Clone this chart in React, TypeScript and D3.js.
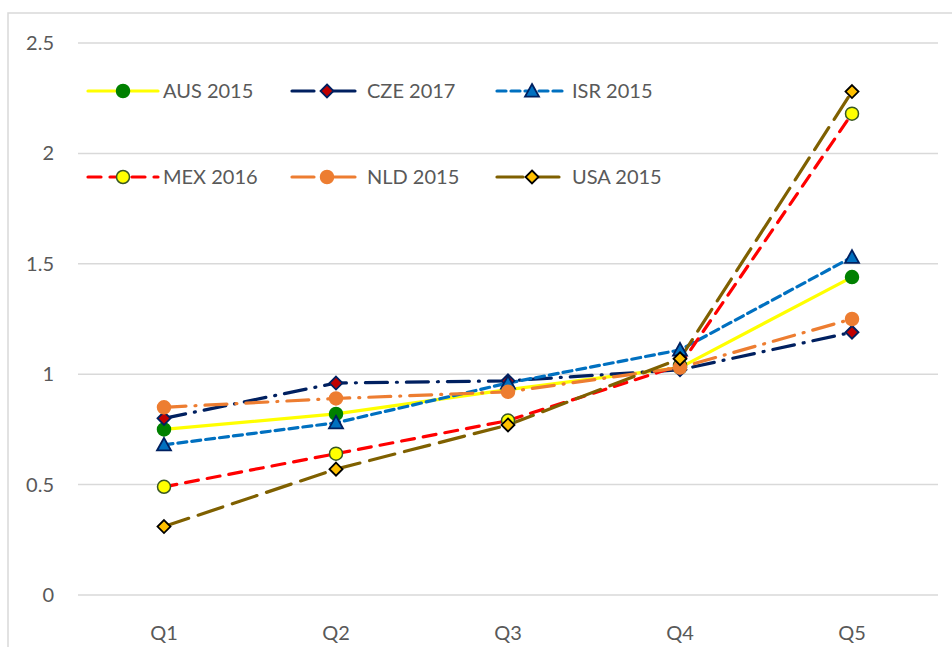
import React from "react";
import * as d3 from "d3";

const categories = ["Q1", "Q2", "Q3", "Q4", "Q5"];
const yTicks = [0, 0.5, 1, 1.5, 2, 2.5];
const seriesNames = ["AUS 2015", "CZE 2017", "ISR 2015", "MEX 2016", "NLD 2015", "USA 2015"];
const aus = [0.75, 0.82, 0.93, 1.03, 1.44];
const cze = [0.8, 0.96, 0.97, 1.02, 1.19];
const isr = [0.68, 0.78, 0.96, 1.11, 1.53];
const mex = [0.49, 0.64, 0.79, 1.04, 2.18];
const nld = [0.85, 0.89, 0.92, 1.03, 1.25];
const usa = [0.31, 0.57, 0.77, 1.07, 2.28];

type Style = {
  color: string;
  dash: string | null;
  marker: "circle" | "diamond" | "triangle";
  fill: string;
  stroke: string;
};

const styles: Style[] = [
  { color: "#FFFF00", dash: null, marker: "circle", fill: "#008000", stroke: "#008000" },
  { color: "#002060", dash: "22 9 1 9", marker: "diamond", fill: "#C00000", stroke: "#002060" },
  { color: "#0070C0", dash: "9 5", marker: "triangle", fill: "#0070C0", stroke: "#002060" },
  { color: "#FF0000", dash: "13 9", marker: "circle", fill: "#FFFF00", stroke: "#385723" },
  { color: "#ED7D31", dash: "22 9 1 9", marker: "circle", fill: "#ED7D31", stroke: "#ED7D31" },
  { color: "#7F6000", dash: "26 10", marker: "diamond", fill: "#FFC000", stroke: "#000000" },
];

const seriesValues = [aus, cze, isr, mex, nld, usa];

const FONT = "Lato, 'Open Sans', sans-serif";

function Marker({ kind, x, y, fill, stroke }: { kind: string; x: number; y: number; fill: string; stroke: string }) {
  if (kind === "circle") {
    return <circle cx={x} cy={y} r={6.5} fill={fill} stroke={stroke} strokeWidth={1.5} />;
  }
  if (kind === "diamond") {
    const s = 6.5;
    return (
      <path
        d={`M${x},${y - s}L${x + s},${y}L${x},${y + s}L${x - s},${y}Z`}
        fill={fill}
        stroke={stroke}
        strokeWidth={1.8}
      />
    );
  }
  const s = 7;
  return (
    <path
      d={`M${x},${y - s}L${x + s},${y + s * 0.8}L${x - s},${y + s * 0.8}Z`}
      fill={fill}
      stroke={stroke}
      strokeWidth={1.8}
    />
  );
}

export default function App() {
  const W = 952;
  const H = 647;
  const x = d3.scaleBand<string>().domain(categories).range([78, 938]);
  const y = d3.scaleLinear().domain([0, 2.5]).range([595, 43]);
  const line = d3
    .line<number>()
    .x((_, i) => (x(categories[i]) as number) + x.bandwidth() / 2)
    .y((d) => y(d));

  const legendX = [88, 292, 497];
  const legendY = [91, 177];
  const legendLen = 70;

  return (
    <svg
      width={W}
      height={H}
      style={{ position: "absolute", left: 0, top: 0, background: "#fff" }}
      fontFamily={FONT}
    >
      <rect x={8} y={13} width={W + 20} height={H + 20} fill="#fff" stroke="#D9D9D9" strokeWidth={1.5} />
      {yTicks.map((t) => (
        <g key={t}>
          <line x1={78} x2={938} y1={y(t)} y2={y(t)} stroke="#D9D9D9" strokeWidth={1.5} />
          <text x={54} y={y(t) + 7} textAnchor="end" fontSize={20} fill="#595959">
            {t}
          </text>
        </g>
      ))}
      {categories.map((c) => (
        <text
          key={c}
          x={(x(c) as number) + x.bandwidth() / 2}
          y={640}
          textAnchor="middle"
          fontSize={20}
          fill="#595959"
        >
          {c}
        </text>
      ))}
      {seriesValues.map((vals, i) => (
        <path
          key={"l" + i}
          d={line(vals) || ""}
          fill="none"
          stroke={styles[i].color}
          strokeWidth={3.2}
          strokeDasharray={styles[i].dash || undefined}
          strokeLinecap="round"
          strokeLinejoin="round"
        />
      ))}
      {seriesValues.map((vals, i) => (
        <g key={"m" + i}>
          {vals.map((v, j) => (
            <Marker
              key={j}
              kind={styles[i].marker}
              x={(x(categories[j]) as number) + x.bandwidth() / 2}
              y={y(v)}
              fill={styles[i].fill}
              stroke={styles[i].stroke}
            />
          ))}
        </g>
      ))}
      {seriesNames.map((name, i) => {
        const lx = legendX[i % 3];
        const ly = legendY[Math.floor(i / 3)];
        const st = styles[i];
        return (
          <g key={"lg" + i}>
            <line
              x1={lx}
              x2={lx + legendLen}
              y1={ly}
              y2={ly}
              stroke={st.color}
              strokeWidth={3.2}
              strokeDasharray={st.dash || undefined}
              strokeLinecap="round"
            />
            <Marker kind={st.marker} x={lx + legendLen / 2} y={ly} fill={st.fill} stroke={st.stroke} />
            <text x={lx + legendLen + 5} y={ly + 7} fontSize={20} fill="#595959">
              {name}
            </text>
          </g>
        );
      })}
    </svg>
  );
}
